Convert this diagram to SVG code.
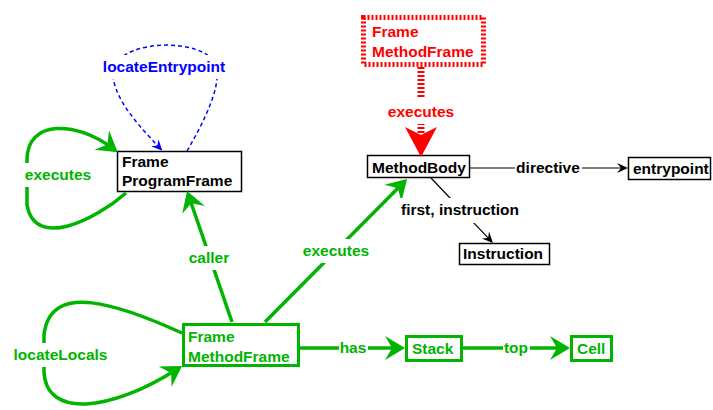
<svg xmlns="http://www.w3.org/2000/svg" width="713" height="410" viewBox="0 0 713 410">
  <style>
    text { font-family: "Liberation Sans", Arial, sans-serif; font-weight: bold; font-size: 15.5px; }
    .box { fill: #ffffff; stroke: #000000; stroke-width: 1.5; }
    .gbox { fill: #ffffff; stroke: #00b400; stroke-width: 3; }
    .rbox { fill: #ffffff; stroke: #ff0000; stroke-width: 5; stroke-dasharray: 2 2; }
    .t { fill: #000000; }
    .tg { fill: #00b400; }
    .tr { fill: #ff0000; }
    .tb { fill: #0000ff; }
    .eg { fill: none; stroke: #00b400; stroke-width: 3.5; }
    .ek { fill: none; stroke: #000000; stroke-width: 1.2; }
    .eb { fill: none; stroke: #0000ff; stroke-width: 1.5; stroke-dasharray: 4 3; }
    .er { fill: none; stroke: #ff0000; stroke-width: 7; stroke-dasharray: 2 2; }
    .lbg { fill: #ffffff; stroke: none; }
    .lbl { text-anchor: middle; }
  </style>
  <defs>
    <marker id="arrG" markerUnits="userSpaceOnUse" orient="auto" refX="0" refY="0" markerWidth="30" markerHeight="30" overflow="visible">
      <path d="M6,0 L-14,-12 L-7,0 L-14,12 Z" fill="#00b400"/>
    </marker>
    <marker id="arrK" markerUnits="userSpaceOnUse" orient="auto" refX="0" refY="0" markerWidth="14" markerHeight="14" overflow="visible">
      <path d="M4,0 L-7,-5 L-3,0 L-7,5 Z" fill="#000000"/>
    </marker>
    <marker id="arrB" markerUnits="userSpaceOnUse" orient="auto" refX="0" refY="0" markerWidth="14" markerHeight="14" overflow="visible">
      <path d="M4,0 L-7,-5 L-3,0 L-7,5 Z" fill="#0000ff"/>
    </marker>
    <marker id="arrR" markerUnits="userSpaceOnUse" orient="auto" refX="0" refY="0" markerWidth="40" markerHeight="40" overflow="visible">
      <path d="M10,0 L-20,-16 L-12,0 L-20,16 Z" fill="#ff0000"/>
    </marker>
  </defs>

  <rect width="713" height="410" fill="#ffffff"/>

  <!-- nodes -->
  <g id="node-frame-methodframe-top">
    <rect class="rbox" x="363.5" y="17.5" width="120" height="47"/>
    <text class="tr" x="372" y="37">Frame</text>
    <text class="tr" x="372" y="57">MethodFrame</text>
  </g>
  <g id="node-programframe">
    <rect class="box" x="117.5" y="151.5" width="124" height="40"/>
    <text class="t" x="122" y="167">Frame</text>
    <text class="t" x="122" y="186">ProgramFrame</text>
  </g>
  <g id="node-methodbody">
    <rect class="box" x="367.5" y="155.5" width="102" height="22"/>
    <text class="t" x="372" y="172.5">MethodBody</text>
  </g>
  <g id="node-entrypoint">
    <rect class="box" x="628.5" y="157.5" width="82" height="22"/>
    <text class="t" x="633" y="173.5">entrypoint</text>
  </g>
  <g id="node-instruction">
    <rect class="box" x="459.5" y="243.5" width="90" height="21"/>
    <text class="t" x="463" y="259">Instruction</text>
  </g>
  <g id="node-methodframe">
    <rect class="gbox" x="183.5" y="324.5" width="115" height="41"/>
    <text class="tg" x="188" y="342">Frame</text>
    <text class="tg" x="188" y="362">MethodFrame</text>
  </g>
  <g id="node-stack">
    <rect class="gbox" x="406.5" y="336.5" width="55" height="24"/>
    <text class="tg" x="412" y="354">Stack</text>
  </g>
  <g id="node-cell">
    <rect class="gbox" x="571.5" y="336.5" width="40" height="24"/>
    <text class="tg" x="577" y="354">Cell</text>
  </g>

  <!-- connectors -->
  <g id="connectors">
    <!-- ProgramFrame executes itself -->
    <path class="eg" d="M126,193 C95,220 35,250 27,205 L27,160 C27,120 75,120 113,148.6" marker-end="url(#arrG)"/>
    <rect class="lbg" x="21" y="163" width="74" height="24"/>
    <text class="tg lbl" x="58" y="180">executes</text>

    <!-- ProgramFrame locateEntrypoint itself -->
    <path class="eb" d="M187,151 C205,120 222,85 216,65 C205,38 125,38 113,68 C110,95 138,125 159.6,147.8" marker-end="url(#arrB)"/>
    <rect class="lbg" x="101" y="55" width="126" height="24"/>
    <text class="tb lbl" x="164" y="72">locateEntrypoint</text>

    <!-- MethodFrame caller ProgramFrame -->
    <path class="eg" d="M232,322 L189,196.7" marker-end="url(#arrG)"/>
    <rect class="lbg" x="187" y="246" width="44" height="24"/>
    <text class="tg lbl" x="209" y="263">caller</text>

    <!-- MethodFrame executes MethodBody -->
    <path class="eg" d="M265,322 L402.8,183.3" marker-end="url(#arrG)"/>
    <rect class="lbg" x="301" y="239" width="70" height="24"/>
    <text class="tg lbl" x="336" y="256">executes</text>

    <!-- MethodFrame locateLocals itself -->
    <path class="eg" d="M182,333 C120,305 50,280 44,335 L44,372 C46,418 110,412 177,369.2" marker-end="url(#arrG)"/>
    <rect class="lbg" x="11" y="343" width="99" height="24"/>
    <text class="tg lbl" x="60.5" y="360">locateLocals</text>

    <!-- MethodFrame has Stack -->
    <path class="eg" d="M300,348 L399,348" marker-end="url(#arrG)"/>
    <rect class="lbg" x="339" y="338" width="29" height="20"/>
    <text class="tg lbl" x="353" y="353">has</text>

    <!-- Stack top Cell -->
    <path class="eg" d="M463,348 L564,348" marker-end="url(#arrG)"/>
    <rect class="lbg" x="503" y="338" width="27" height="22"/>
    <text class="tg lbl" x="516" y="353">top</text>

    <!-- MethodBody directive entrypoint -->
    <path class="ek" d="M470,168 L624,168" marker-end="url(#arrK)"/>
    <rect class="lbg" x="515" y="158" width="67" height="20"/>
    <text class="t lbl" x="548" y="173">directive</text>

    <!-- MethodBody first, instruction Instruction -->
    <path class="ek" d="M431,178 L490.2,240.1" marker-end="url(#arrK)"/>
    <rect class="lbg" x="398" y="198" width="124" height="25"/>
    <text class="t lbl" x="460" y="215">first, instruction</text>

    <!-- Frame MethodFrame executes MethodBody -->
    <path class="er" d="M421,67 L421,147" marker-end="url(#arrR)"/>
    <rect class="lbg" x="384" y="97" width="74" height="27"/>
    <text class="tr lbl" x="421" y="117">executes</text>
  </g>
</svg>
